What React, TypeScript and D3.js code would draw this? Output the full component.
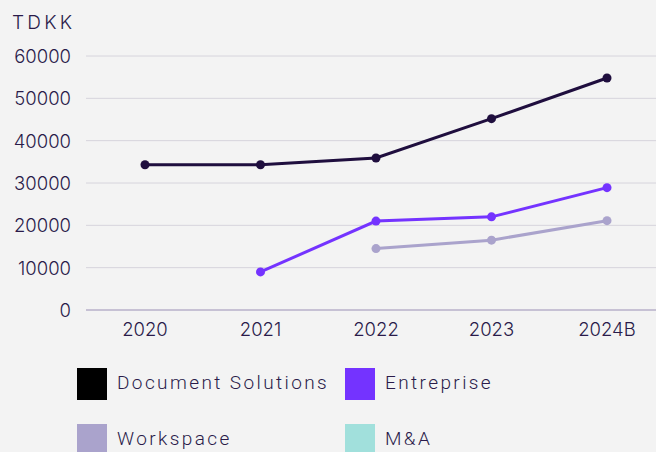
import React, { useEffect, useRef } from 'react';
import * as d3 from 'd3';

const years = ['2020', '2021', '2022', '2023', '2024B'];
const docSolutions = [34300, 34300, 35900, 45200, 54800];
const entreprise = [null, 9000, 21000, 22000, 28900];
const workspace = [null, null, 14500, 16500, 21100];
const yTicks = [0, 10000, 20000, 30000, 40000, 50000, 60000];

const legendNames = ['Document Solutions', 'Entreprise', 'Workspace', 'M&A'];
const legendColors = ['#000000', '#7433ff', '#aaa3cc', '#a1e0dc'];

const width = 656;
const height = 452;
const textColor = '#2a1b4a';

function App() {
	const svgRef = useRef<SVGSVGElement>(null);

	useEffect(() => {
		const svg = d3.select(svgRef.current);
		svg.selectAll('*').remove();

		svg.append('rect').attr('width', width).attr('height', height).attr('fill', '#f3f3f3');

		const x = d3.scalePoint<string>().domain(years).range([145, 607]);
		const y = d3.scaleLinear().domain([0, 60000]).range([310, 56]);

		// gridlines
		svg
			.append('g')
			.selectAll('line')
			.data(yTicks.filter((t) => t > 0))
			.join('line')
			.attr('x1', 86)
			.attr('x2', width)
			.attr('y1', (d) => y(d))
			.attr('y2', (d) => y(d))
			.attr('stroke', '#d6d4dc')
			.attr('stroke-width', 1);

		svg
			.append('line')
			.attr('x1', 86)
			.attr('x2', width)
			.attr('y1', y(0))
			.attr('y2', y(0))
			.attr('stroke', '#9a8fb5')
			.attr('stroke-width', 1);

		svg
			.append('g')
			.selectAll('text')
			.data(yTicks)
			.join('text')
			.attr('x', 71)
			.attr('y', (d) => y(d) + 7)
			.attr('text-anchor', 'end')
			.attr('font-size', 18.5)
			.attr('font-weight', 300)
			.attr('fill', textColor)
			.text((d) => String(d));

		svg
			.append('g')
			.selectAll('text')
			.data(years)
			.join('text')
			.attr('x', (d) => x(d)!)
			.attr('y', 336)
			.attr('text-anchor', 'middle')
			.attr('font-size', 18.5)
			.attr('font-weight', 300)
			.attr('fill', textColor)
			.text((d) => d);

		svg
			.append('text')
			.attr('x', 12)
			.attr('y', 29)
			.attr('font-size', 19)
			.attr('font-weight', 300)
			.attr('letter-spacing', 3.2)
			.attr('fill', textColor)
			.text('TDKK');

		const series = [
			{ values: workspace, color: '#aaa3cc' },
			{ values: entreprise, color: '#7433ff' },
			{ values: docSolutions, color: '#1f0e3e' },
		];

		const lineGen = d3
			.line<number | null>()
			.defined((d) => d !== null)
			.x((_, i) => x(years[i])!)
			.y((d) => y(d as number));

		series.forEach((s) => {
			svg
				.append('path')
				.attr('d', lineGen(s.values))
				.attr('fill', 'none')
				.attr('stroke', s.color)
				.attr('stroke-width', 3);
			svg
				.append('g')
				.selectAll('circle')
				.data(s.values.map((v, i) => ({ v, i })).filter((d) => d.v !== null))
				.join('circle')
				.attr('cx', (d) => x(years[d.i])!)
				.attr('cy', (d) => y(d.v as number))
				.attr('r', 4.5)
				.attr('fill', s.color);
		});

		const legend = svg
			.append('g')
			.selectAll('g')
			.data(legendNames)
			.join('g')
			.attr('transform', (_, i) => `translate(${i % 2 === 0 ? 77 : 345},${i < 2 ? 368 : 424})`);

		legend
			.append('rect')
			.attr('width', 30)
			.attr('height', 32)
			.attr('fill', (_, i) => legendColors[i]);

		legend
			.append('text')
			.attr('x', 40)
			.attr('y', 21)
			.attr('font-size', 19)
			.attr('letter-spacing', 2.4)
			.attr('font-family', 'Roboto, sans-serif')
			.attr('font-weight', 300)
			.attr('fill', textColor)
			.text((d) => d);
	}, []);

	return (
		<svg
			ref={svgRef}
			width={width}
			height={height}
			style={{ position: 'absolute', left: 0, top: 0, fontFamily: 'Inter, sans-serif' }}
		/>
	);
}

export default App;
